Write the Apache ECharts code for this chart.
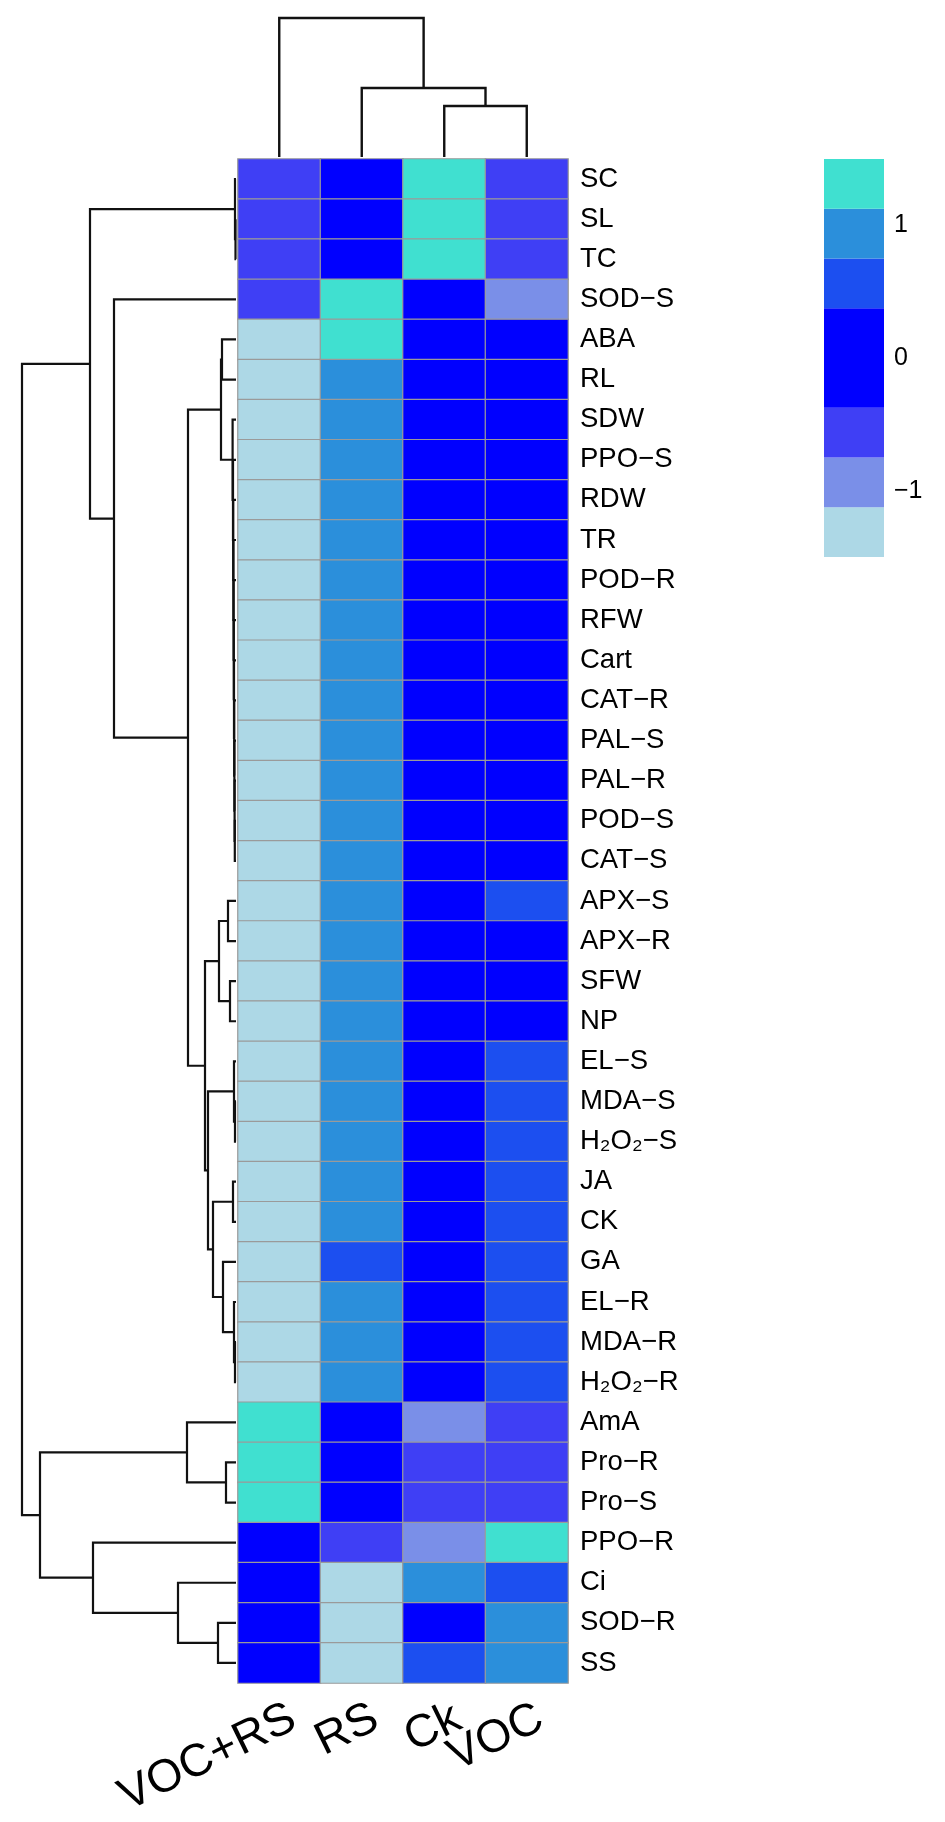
<!DOCTYPE html>
<html><head><meta charset="utf-8">
<script src="https://cdn.jsdelivr.net/npm/echarts@6/dist/echarts.min.js"></script>
<style>html,body{margin:0;padding:0;background:#fff}#c{width:945px;height:1822px}</style>
</head><body><div id="c"></div>
<script>
// ---- data ----
const rows = ['SC','SL','TC','SOD−S','ABA','RL','SDW','PPO−S','RDW','TR','POD−R','RFW','Cart','CAT−R','PAL−S','PAL−R','POD−S','CAT−S','APX−S','APX−R','SFW','NP','EL−S','MDA−S','H₂O₂−S','JA','CK','GA','EL−R','MDA−R','H₂O₂−R','AmA','Pro−R','Pro−S','PPO−R','Ci','SOD−R','SS'];
const cols = ['VOC+RS','RS','Ck','VOC'];
const valVOCRS = [-0.55,-0.5,-0.52,-0.45,-1.3,-1.4,-1.42,-1.4,-1.41,-1.4,-1.42,-1.4,-1.41,-1.4,-1.4,-1.39,-1.4,-1.38,-1.35,-1.38,-1.4,-1.4,-1.35,-1.35,-1.33,-1.3,-1.3,-1.25,-1.3,-1.3,-1.3,1.4,1.45,1.45,-0.2,-0.3,-0.1,-0.25];
const valRS    = [-0.3,-0.35,-0.33,1.35,1.2,1.0,1.02,1.0,1.01,1.0,1.02,1.0,1.01,1.0,1.0,0.99,1.0,0.98,0.95,1.0,1.0,1.0,0.9,0.92,0.9,0.85,0.88,0.7,0.85,0.85,0.82,-0.2,-0.3,-0.3,-0.45,-1.3,-1.3,-1.3];
const valCk    = [1.35,1.38,1.37,-0.1,0.05,0.2,0.2,0.2,0.2,0.2,0.2,0.2,0.2,0.2,0.2,0.2,0.2,0.2,0.0,0.1,0.15,0.1,0.0,-0.02,-0.02,0.0,-0.05,0.05,-0.05,-0.05,-0.02,-0.8,-0.6,-0.6,-0.8,0.95,0.2,0.5];
const valVOC   = [-0.5,-0.53,-0.52,-0.8,0.05,0.2,0.2,0.2,0.2,0.2,0.2,0.2,0.2,0.2,0.2,0.2,0.2,0.2,0.4,0.28,0.25,0.3,0.45,0.45,0.45,0.45,0.47,0.5,0.5,0.5,0.5,-0.45,-0.55,-0.55,1.4,0.6,1.0,1.05];
const legendBreaks = [-1.5,-1.125,-0.75,-0.375,0,0.375,0.75,1.125,1.5];
const legendColors = ['#ADD8E6','#7A8FE8','#3F3FF5','#0000FF','#0000FF','#1C4FF0','#2B8FDB','#40E0D0'];
const legendTicks = [-1,0,1];
// dendrograms: [left, right, height]; leaves are indices
const rowLadder = [6,[7,[8,[9,[10,[11,[12,[13,[14,[15,[16,17,1.2],1.4],1.6],1.8],2],2.2],2.4],2.6],2.8],3],3.4];
const rowTree = [
  [[0,[1,2,0.5],1],
   [3,[[[4,5,14],rowLadder,15],
       [[[18,19,8],[20,21,6],17],
        [[22,[23,24,1],2],[[25,26,3],[27,[28,[29,30,1],2],13],23],28],31],48],122],146],
  [[31,[32,33,10],49],[34,[35,[36,37,18],58],143],196],
  214];
const colTree = [0,[1,[2,3,51],69],139];

// ---- build ----
const colVals = [valVOCRS, valRS, valCk, valVOC];
const heat = [];
colVals.forEach((arr, ci) => arr.forEach((v, ri) => heat.push([ci, ri, v])));

function walk(node, out){
  if (typeof node === 'number') return {p: node, h: 0};
  const a = walk(node[0], out), b = walk(node[1], out);
  out.push([a.p, a.h, b.p, b.h, node[2]]);
  return {p: (a.p + b.p) / 2, h: node[2]};
}
const rowSegs = []; walk(rowTree, rowSegs);
const colSegs = []; walk(colTree, colSegs);

const legendData = legendColors.map((c, i) => [legendBreaks[i], legendBreaks[i+1], i]);
const pieces = legendColors.map((c, i) => i === legendColors.length - 1
  ? {gte: legendBreaks[i], lte: legendBreaks[i+1], color: c}
  : {gte: legendBreaks[i], lt: legendBreaks[i+1], color: c});

const FONT = "'Liberation Sans', Arial, Helvetica, sans-serif";
const chart = echarts.init(document.getElementById('c'), null, {renderer: 'canvas'});
const hidden = {show: false};
const G = (o) => Object.assign({outerBoundsMode: 'none', containLabel: false}, o);

chart.setOption({
  backgroundColor: '#ffffff',
  animation: false,
  textStyle: {fontFamily: FONT},
  grid: [
    G({left: 238, top: 159, width: 330, height: 1524}),   // heatmap
    G({left: 18, top: 159, width: 218, height: 1524}),    // row dendrogram
    G({left: 238, top: 18, width: 330, height: 139}),     // column dendrogram
    G({left: 824, top: 159, width: 60, height: 398}),     // legend
    G({left: 252, top: 159, width: 330, height: 1524})    // column labels
  ],
  xAxis: [
    {gridIndex: 0, type: 'category', data: cols, show: false},
    {gridIndex: 1, type: 'value', min: 0, max: 218, inverse: true, show: false},
    {gridIndex: 2, type: 'value', min: -0.5, max: 3.5, show: false},
    {gridIndex: 3, type: 'category', data: [''], show: false},
    {gridIndex: 4, type: 'category', data: cols, position: 'bottom',
     axisLine: hidden, axisTick: hidden, splitLine: hidden,
     axisLabel: {rotate: 26, fontSize: 46, color: '#000', margin: 33, fontFamily: FONT, interval: 0}}
  ],
  yAxis: [
    {gridIndex: 0, type: 'category', data: rows, inverse: true, position: 'right',
     axisLine: hidden, axisTick: hidden, splitLine: hidden,
     axisLabel: {fontSize: 27.5, color: '#000', margin: 12, fontFamily: FONT, interval: 0}},
    {gridIndex: 1, type: 'value', min: -0.5, max: 37.5, inverse: true, show: false},
    {gridIndex: 2, type: 'value', min: 0, max: 139, show: false},
    {gridIndex: 3, type: 'value', min: -1.5, max: 1.5, interval: 0.5, position: 'right',
     axisLine: hidden, axisTick: hidden, splitLine: hidden,
     axisLabel: {fontSize: 25, color: '#000', margin: 10, fontFamily: FONT,
       formatter: v => legendTicks.includes(v) ? (v < 0 ? '−' + Math.abs(v) : String(v)) : ''}},
    {gridIndex: 4, type: 'category', data: rows, show: false}
  ],
  visualMap: {type: 'piecewise', show: false, seriesIndex: 0, dimension: 2, pieces: pieces},
  series: [
    {type: 'heatmap', xAxisIndex: 0, yAxisIndex: 0, data: heat,
     itemStyle: {borderColor: '#9a9a9a', borderWidth: 1.2}, emphasis: {disabled: true}},
    {type: 'custom', xAxisIndex: 1, yAxisIndex: 1, data: rowSegs, silent: true,
     renderItem: (params, api) => {
       const p1 = api.value(0), h1 = api.value(1), p2 = api.value(2), h2 = api.value(3), h = api.value(4);
       return {type: 'polyline', shape: {points: [api.coord([h1, p1]), api.coord([h, p1]), api.coord([h, p2]), api.coord([h2, p2])]},
               style: {stroke: '#111', lineWidth: 2.2, fill: null}};
     }},
    {type: 'custom', xAxisIndex: 2, yAxisIndex: 2, data: colSegs, silent: true,
     renderItem: (params, api) => {
       const p1 = api.value(0), h1 = api.value(1), p2 = api.value(2), h2 = api.value(3), h = api.value(4);
       return {type: 'polyline', shape: {points: [api.coord([p1, h1]), api.coord([p1, h]), api.coord([p2, h]), api.coord([p2, h2])]},
               style: {stroke: '#111', lineWidth: 2.4, fill: null}};
     }},
    {type: 'custom', xAxisIndex: 3, yAxisIndex: 3, data: legendData, silent: true,
     renderItem: (params, api) => {
       const top = api.coord([0, api.value(1)]), bot = api.coord([0, api.value(0)]);
       const w = api.size([1, 0])[0];
       return {type: 'rect', shape: {x: top[0] - w / 2, y: top[1], width: w, height: bot[1] - top[1]},
               style: {fill: legendColors[api.value(2)]}};
     }}
  ]
});
</script>
</body></html>
